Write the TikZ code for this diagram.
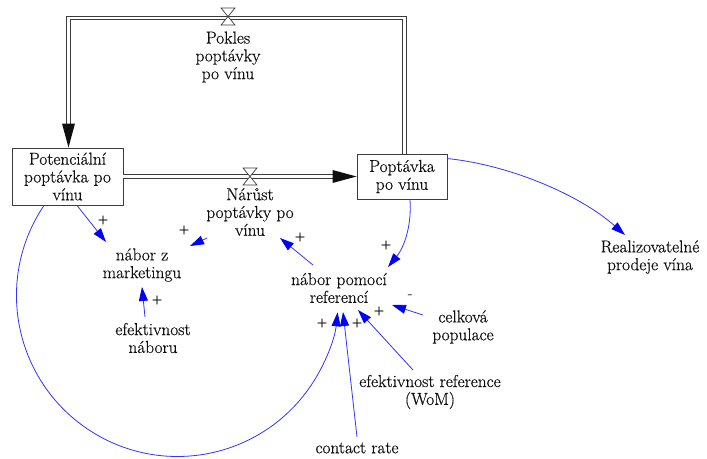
\documentclass[tikz,border=0pt]{standalone}
\usepackage{fontspec}
\newfontfamily\diagfont{Latin Modern Roman}[FakeBold=0.5]
\usetikzlibrary{arrows.meta,calc}
\definecolor{linkblue}{RGB}{0,0,255}
\definecolor{ink}{RGB}{15,15,15}
\definecolor{pipe}{RGB}{60,60,60}
\tikzset{
  txt/.style={font=\diagfont\fontsize{17.3}{17.8}\selectfont, align=center, inner sep=0pt, text=ink},
  stock/.style={draw=pipe, line width=0.9pt, fill=white, inner sep=0pt,
    font=\diagfont\fontsize{17.3}{17.8}\selectfont, align=center, text=ink},
  link/.style={draw=linkblue!80, line width=0.8pt,
    -{Triangle[length=14pt,width=9pt,color=linkblue]}},
  sign/.style={font=\diagfont\fontsize{14}{14}\selectfont, text=ink!85, inner sep=0pt},
  flowpipe/.style={draw=pipe, double=white, line width=0.8pt, double distance=2.6pt, line join=miter},
  flowhead/.style={fill=ink},
  valve/.pic={\draw[pipe, line width=0.7pt, fill=white]
    (-7,-8.5) -- (7,-8.5) -- (-7,8.5) -- (7,8.5) -- cycle;}
}
\begin{document}
\begin{tikzpicture}[x=1pt,y=-1pt]
\useasboundingbox (0,0) rectangle (707,458);

% stocks
\node[stock, minimum width=111pt, minimum height=57pt] (box1) at (67.5,176.5)
  {Potenciální\\poptávka po\\vínu};
\node[stock, minimum width=90pt, minimum height=45pt] (box2) at (402,176.5)
  {Poptávka\\po vínu};

% flows
\draw[flowpipe] ($(box2.north)+(2.5,0)$) |- (68.5,18) -- ($(box1.north)+(1,-24)$);
\fill[flowhead] ($(box1.north)+(1,0)$) -- ($(box1.north)+(7.5,-24)$) -- ($(box1.north)+(-5.5,-24)$) -- cycle;
\draw[flowpipe] (box1.east) -- ($(box2.west)+(-24,0)$);
\fill[flowhead] (box2.west) -- ($(box2.west)+(-24,-6.5)$) -- ($(box2.west)+(-24,6.5)$) -- cycle;
\pic at (228,16.5) {valve};
\pic at (250,176.5) {valve};

% auxiliaries
\node[txt] (pokles) at (228,57) {Pokles\\poptávky\\po vínu};
\node[txt] (narust) at (250,212) {Nárůst\\poptávky po\\vínu};
\node[txt] (nabm) at (142,265) {nábor z\\marketingu};
\node[txt] (nabr) at (339,288) {nábor pomocí\\referencí};
\node[txt] (efn) at (153,338) {efektivnost\\náboru};
\node[txt] (celk) at (463,327) {celková\\populace};
\node[txt] (wom) at (430,392) {efektivnost reference\\(WoM)};
\node[txt] (contact) at (357,448) {contact rate};
\node[txt] (real) at (650,257) {Realizovatelné\\prodeje vína};

% causal links
\draw[link] ($(box1.south)+(9.5,0)$) -- ($(nabm)+(-36,-23)$);
\draw[link] ($(narust)+(-43,26)$) -- ($(nabm)+(48,-19)$);
\draw[link] ($(nabr)+(-26,-23)$) -- ($(narust)+(30,26)$);
\draw[link] ($(box2.south)+(8,0)$) .. controls (412,230) and (402,250) .. ($(nabr)+(49,-21)$);
\draw[link] ($(box2.north east)+(0,5)$) .. controls (510,165) and (580,195) .. ($(real)+(-25,-22)$);
\draw[link] ($(celk)+(-40,-12)$) -- ($(nabr)+(53,17)$);
\draw[link] ($(wom)+(-17,-22)$) -- ($(nabr)+(19,22)$);
\draw[link] ($(contact)+(0,-11)$) -- ($(nabr)+(4,24)$);
\draw[link] ($(box1.south)+(-23.5,0)$) arc[start angle=214, end angle=6, radius=161];
\draw[link] ($(efn)+(-8,-21)$) -- ($(nabm)+(0,22)$);

% link polarities
\node[sign] at (103,220) {+};
\node[sign] at (184,230) {+};
\node[sign] at (300,237) {+};
\node[sign] at (386,245) {+};
\node[sign] at (157,300) {+};
\node[sign] at (322,323) {+};
\node[sign] at (357,323) {+};
\node[sign] at (379,311) {+};
\node[sign] at (410,296) {-};
\end{tikzpicture}
\end{document}
